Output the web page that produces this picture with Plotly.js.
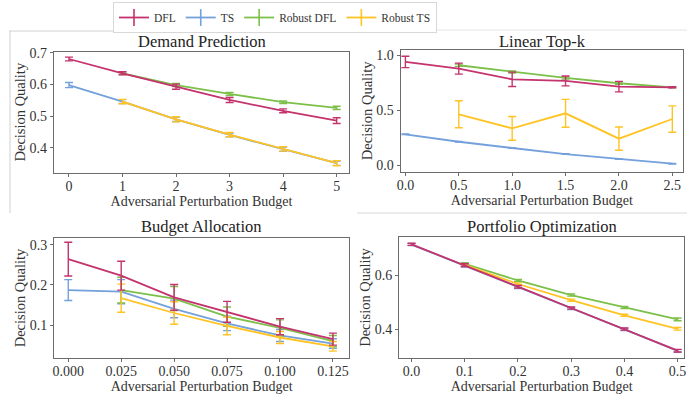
<!DOCTYPE html>
<html>
<head>
<meta charset="utf-8">
<script src="https://cdn.plot.ly/plotly-3.0.1.min.js"></script>
<style>html,body{margin:0;padding:0;background:#fff}#chart{width:687px;height:396px}</style>
</head>
<body>
<div id="chart"></div>
<script>
// ---- Data ----
const seriesNames = ["DFL", "TS", "Robust DFL", "Robust TS"];
const colors = {"DFL": "#c4336d", "TS": "#74a0db", "Robust DFL": "#7cc04a", "Robust TS": "#ffc324"};
const panelTitles = ["Demand Prediction", "Linear Top-k", "Budget Allocation", "Portfolio Optimization"];

// Demand Prediction
const dpX = [0, 1, 2, 3, 4, 5];
const dpXRobust = [1, 2, 3, 4, 5];
const dpDFL = [0.680, 0.635, 0.593, 0.551, 0.517, 0.486];
const dpDFLErr = [0.006, 0.005, 0.008, 0.008, 0.006, 0.009];
const dpTS = [0.598, 0.546, 0.490, 0.441, 0.396, 0.352];
const dpTSErr = [0.008, 0.006, 0.007, 0.006, 0.007, 0.007];
const dpRDFL = [0.635, 0.598, 0.570, 0.544, 0.526];
const dpRDFLErr = [0.004, 0.005, 0.005, 0.004, 0.005];
const dpRTS = [0.546, 0.490, 0.442, 0.397, 0.352];
const dpRTSErr = [0.007, 0.008, 0.007, 0.007, 0.008];

// Linear Top-k
const tkX = [0, 0.5, 1.0, 1.5, 2.0, 2.5];
const tkXRobust = [0.5, 1.0, 1.5, 2.0, 2.5];
const tkDFL = [0.939, 0.878, 0.781, 0.766, 0.714, 0.708];
const tkDFLErr = [0.052, 0.05, 0.065, 0.045, 0.048, 0.005];
const tkTS = [0.280, 0.212, 0.155, 0.100, 0.055, 0.012];
const tkTSErr = [0.003, 0.003, 0.003, 0.003, 0.003, 0.003];
const tkRDFL = [0.909, 0.848, 0.793, 0.745, 0.708];
const tkRDFLErr = [0.01, 0.01, 0.01, 0.01, 0.005];
const tkRTS = [0.462, 0.334, 0.471, 0.240, 0.419];
const tkRTSErr = [0.123, 0.108, 0.127, 0.106, 0.12];

// Budget Allocation
const baX = [0.000, 0.025, 0.050, 0.075, 0.100, 0.125];
const baXRobust = [0.025, 0.050, 0.075, 0.100, 0.125];
const baDFL = [0.264, 0.223, 0.169, 0.133, 0.096, 0.065];
const baDFLErr = [0.042, 0.036, 0.032, 0.026, 0.020, 0.015];
const baTS = [0.187, 0.183, 0.140, 0.104, 0.074, 0.054];
const baTSErr = [0.026, 0.030, 0.022, 0.018, 0.015, 0.012];
const baRDFL = [0.187, 0.166, 0.121, 0.093, 0.060];
const baRDFLErr = [0.032, 0.030, 0.024, 0.020, 0.014];
const baRTS = [0.167, 0.130, 0.098, 0.069, 0.047];
const baRTSErr = [0.035, 0.028, 0.022, 0.015, 0.012];

// Portfolio Optimization
const poX = [0.0, 0.1, 0.2, 0.3, 0.4, 0.5];
const poXRobust = [0.1, 0.2, 0.3, 0.4, 0.5];
const poDFL = [0.714, 0.637, 0.557, 0.478, 0.400, 0.320];
const poDFLErr = [0.004, 0.005, 0.005, 0.004, 0.004, 0.005];
const poTS = [0.713, 0.635, 0.555, 0.476, 0.399, 0.319];
const poTSErr = [0.004, 0.005, 0.005, 0.004, 0.004, 0.005];
const poRDFL = [0.642, 0.580, 0.526, 0.480, 0.436];
const poRDFLErr = [0.004, 0.004, 0.004, 0.004, 0.005];
const poRTS = [0.638, 0.567, 0.507, 0.451, 0.401];
const poRTSErr = [0.004, 0.004, 0.004, 0.004, 0.005];

const panels = [
  {xa: "x", ya: "y", series: {"TS": [dpX, dpTS, dpTSErr], "Robust DFL": [dpXRobust, dpRDFL, dpRDFLErr], "Robust TS": [dpXRobust, dpRTS, dpRTSErr], "DFL": [dpX, dpDFL, dpDFLErr]}},
  {xa: "x2", ya: "y2", series: {"TS": [tkX, tkTS, tkTSErr], "Robust DFL": [tkXRobust, tkRDFL, tkRDFLErr], "Robust TS": [tkXRobust, tkRTS, tkRTSErr], "DFL": [tkX, tkDFL, tkDFLErr]}},
  {xa: "x3", ya: "y3", series: {"TS": [baX, baTS, baTSErr], "Robust DFL": [baXRobust, baRDFL, baRDFLErr], "Robust TS": [baXRobust, baRTS, baRTSErr], "DFL": [baX, baDFL, baDFLErr]}},
  {xa: "x4", ya: "y4", series: {"TS": [poX, poTS, poTSErr], "Robust DFL": [poXRobust, poRDFL, poRDFLErr], "Robust TS": [poXRobust, poRTS, poRTSErr], "DFL": [poX, poDFL, poDFLErr]}}
];

const traces = [];
const drawOrder = ["TS", "Robust DFL", "Robust TS", "DFL"];
panels.forEach(p => {
  drawOrder.forEach(name => {
    const s = p.series[name];
    traces.push({
      type: "scatter", mode: "lines", x: s[0], y: s[1], xaxis: p.xa, yaxis: p.ya,
      name: name, showlegend: false,
      line: {color: colors[name], width: 1.8},
      error_y: {type: "data", array: s[2], visible: true, color: colors[name], thickness: 1.4, width: 4}
    });
  });
});
// legend entries
seriesNames.forEach(name => {
  traces.push({
    type: "scatter", mode: "lines+markers", x: [null], y: [null], xaxis: "x", yaxis: "y",
    name: name, showlegend: true,
    line: {color: colors[name], width: 1.8},
    marker: {symbol: "line-ns-open", size: 12, color: colors[name], line: {color: colors[name], width: 1.6}}
  });
});

const W = 687, H = 396;
const fx = v => v / W, fy = v => 1 - v / H;
const FONT = "Liberation Serif";
const axBase = {
  showgrid: false, zeroline: false, showline: true, mirror: true, linecolor: "#6b6b6b", linewidth: 1.2,
  ticks: "outside", ticklen: 3, tickcolor: "#6b6b6b", tickfont: {family: FONT, size: 14, color: "#333"},
  automargin: false
};
const xBase = Object.assign({}, axBase, {ticklabelstandoff: -3});
const xTitle = {text: "Adversarial Perturbation Budget", font: {family: FONT, size: 14, color: "#333"}, standoff: 2};
const yTitle = {text: "Decision Quality", font: {family: FONT, size: 14.5, color: "#333"}, standoff: 0};

const ann = (text, x, y) => ({text: text, x: fx(x), y: fy(y), xref: "paper", yref: "paper", xanchor: "center", yanchor: "middle",
  showarrow: false, font: {family: FONT, size: 16.5, color: "#222"}});

const layout = {
  width: W, height: H, margin: {l: 0, r: 0, t: 0, b: 0},
  paper_bgcolor: "#fff", plot_bgcolor: "#fff",
  font: {family: FONT, color: "#333"},
  showlegend: true,
  legend: {orientation: "h", x: fx(275), xanchor: "center", y: fy(2), yanchor: "top",
    bordercolor: "#d8d8d8", borderwidth: 1, font: {family: FONT, size: 11.5, color: "#333"},
    itemwidth: 30, tracegroupgap: 0, bgcolor: "#fff"},
  xaxis: Object.assign({}, xBase, {domain: [fx(54), fx(349)], range: [-0.28, 5.23], anchor: "y", dtick: 1, tick0: 0, title: xTitle}),
  yaxis: Object.assign({}, axBase, {domain: [fy(172.7), fy(51.7)], range: [0.322, 0.703], anchor: "x", dtick: 0.1, tick0: 0, tickformat: ".1f", title: yTitle}),
  xaxis2: Object.assign({}, xBase, {domain: [fx(400.7), fx(683)], range: [-0.044, 2.60], anchor: "y2", dtick: 0.5, tick0: 0, tickformat: ".1f", title: xTitle}),
  yaxis2: Object.assign({}, axBase, {domain: [fy(171.7), fy(50)], range: [-0.061, 1.048], anchor: "x2", dtick: 0.5, tick0: 0, tickformat: ".1f", title: yTitle}),
  xaxis3: Object.assign({}, xBase, {domain: [fx(54.3), fx(349)], range: [-0.0066, 0.1326], anchor: "y3", dtick: 0.025, tick0: 0, tickformat: ".3f", title: xTitle}),
  yaxis3: Object.assign({}, axBase, {domain: [fy(357.7), fy(238.3)], range: [0.0187, 0.316], anchor: "x3", dtick: 0.1, tick0: 0, tickformat: ".1f", title: yTitle}),
  xaxis4: Object.assign({}, xBase, {domain: [fx(399.3), fx(684)], range: [-0.023, 0.512], anchor: "y4", dtick: 0.1, tick0: 0, tickformat: ".1f", title: xTitle}),
  yaxis4: Object.assign({}, axBase, {domain: [fy(357.7), fy(237.3)], range: [0.294, 0.740], anchor: "x4", dtick: 0.2, tick0: 0, tickformat: ".1f", title: yTitle}),
  annotations: [
    ann(panelTitles[0], 201.5, 41),
    ann(panelTitles[1], 542, 41),
    ann(panelTitles[2], 201.5, 226),
    ann(panelTitles[3], 541.5, 226)
  ],
  shapes: [
    {type: "line", xref: "paper", yref: "paper", x0: fx(9), x1: fx(137), y0: fy(31), y1: fy(31), line: {color: "#d0d0d0", width: 1}},
    {type: "line", xref: "paper", yref: "paper", x0: fx(10), x1: fx(10), y0: fy(31), y1: fy(213), line: {color: "#d0d0d0", width: 1}},
    {type: "line", xref: "paper", yref: "paper", x0: fx(357), x1: fx(687), y0: fy(213), y1: fy(213), line: {color: "#d8d8d8", width: 1}},
    {type: "line", xref: "paper", yref: "paper", x0: fx(420), x1: fx(687), y0: fy(30), y1: fy(30), line: {color: "#e4e4e4", width: 1}}
  ]
};

Plotly.newPlot("chart", traces, layout, {staticPlot: true, displayModeBar: false});
</script>
</body>
</html>
